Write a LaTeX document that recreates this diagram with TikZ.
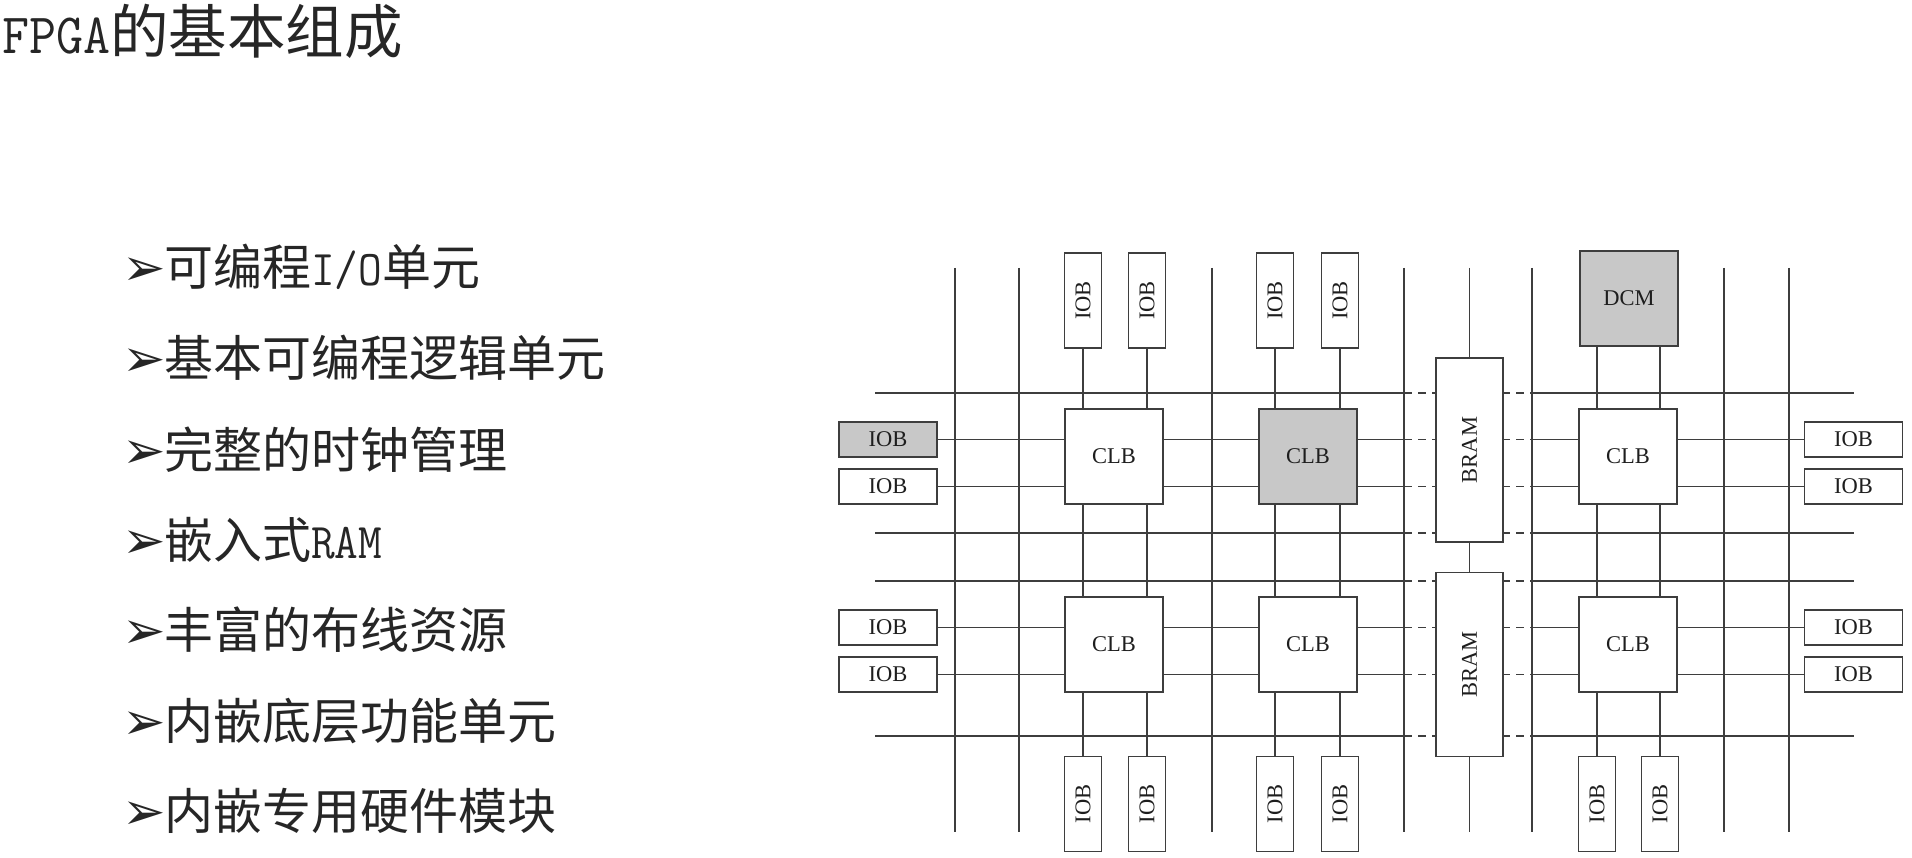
\documentclass[tikz,border=0pt]{standalone}
\usepackage{fontspec}
\usepackage{graphicx}
\setmainfont{Liberation Serif}
\newfontfamily\cjk{Noto Sans CJK SC}
\newfontfamily\lat[FakeStretch=0.92]{Latin Modern Mono}
\newfontfamily\arw{DejaVu Sans}
\newfontfamily\diag{Liberation Serif}
\pgfdeclarelayer{bg}
\pgfsetlayers{bg,main}
\definecolor{lc}{HTML}{3E3E3E}
\definecolor{gfill}{HTML}{C8C8C8}
\definecolor{txt}{HTML}{262626}
\definecolor{dtxt}{HTML}{1E1E1E}
\newcommand\bul{\makebox[42pt][l]{\arw\fontsize{52}{54}\selectfont ➢}}
\begin{document}
\begin{tikzpicture}[x=1pt,y=-1pt,
  box/.style={draw=lc,line width=1.9pt,fill=white,inner sep=0pt,outer sep=0pt,text=dtxt,font=\diag\fontsize{22.5}{24}\selectfont},
  clb/.style={box,minimum width=98pt,minimum height=95pt},
  hiob/.style={box,minimum width=98pt,minimum height=35pt},
  viob/.style={box,minimum width=37pt,minimum height=95pt},
  bram/.style={box,minimum width=67pt,minimum height=184pt},
  grayfill/.style={fill=gfill},
  wire/.style={draw=lc,line width=1.8pt},
  dwire/.style={wire,dash pattern=on 8pt off 6pt},
  bullet/.style={anchor=base west,inner sep=0pt,text=txt,font=\fontsize{49}{52}\selectfont\cjk}]
\begin{pgfonlayer}{bg}
\fill[white] (0,0) rectangle (1912,858);
\end{pgfonlayer}
\useasboundingbox (0,0) rectangle (1912,858);

% ---- text ----
\node[anchor=base west,inner sep=0pt,text=txt] (title) at (2,54)
  {\fontsize{57}{60}\selectfont{\lat FPGA}\cjk\fontsize{58.5}{60}\selectfont 的基本组成};
\node[bullet] (b1) at (122,286) {\bul 可编程{\lat\fontsize{50}{52}\selectfont I/O}单元};
\node[bullet] (b2) at (122,377) {\bul 基本可编程逻辑单元};
\node[bullet] (b3) at (122,468) {\bul 完整的时钟管理};
\node[bullet] (b4) at (122,558) {\bul 嵌入式{\lat\fontsize{50}{52}\selectfont RAM}};
\node[bullet] (b5) at (122,648) {\bul 丰富的布线资源};
\node[bullet] (b6) at (122,739) {\bul 内嵌底层功能单元};
\node[bullet] (b7) at (122,829) {\bul 内嵌专用硬件模块};

% ---- blocks ----
\node[viob] (tA1) at (1083,300.5) {\rotatebox{90}{IOB}};
\node[viob] (tA2) at (1147,300.5) {\rotatebox{90}{IOB}};
\node[viob] (tB1) at (1275,300.5) {\rotatebox{90}{IOB}};
\node[viob] (tB2) at (1340,300.5) {\rotatebox{90}{IOB}};
\node[clb,grayfill] (dcm) at (1629,298.5) {DCM};

\node[clb] (c11) at (1114,456.5) {CLB};
\node[clb,grayfill] (c12) at (1308,456.5) {CLB};
\node[clb] (c13) at (1628,456.5) {CLB};
\node[clb] (c21) at (1114,644.3) {CLB};
\node[clb] (c22) at (1308,644.3) {CLB};
\node[clb] (c23) at (1628,644.3) {CLB};

\node[bram] (br1) at (1469.5,450) {\rotatebox{90}{BRAM}};
\node[bram] (br2) at (1469.5,664.5) {\rotatebox{90}{BRAM}};

\node[hiob,grayfill] (l1) at (888,439.5) {IOB};
\node[hiob] (l2) at (888,486.5) {IOB};
\node[hiob] (l3) at (888,627.5) {IOB};
\node[hiob] (l4) at (888,674.5) {IOB};
\node[hiob] (r1) at (1853.5,439.5) {IOB};
\node[hiob] (r2) at (1853.5,486.5) {IOB};
\node[hiob] (r3) at (1853.5,627.5) {IOB};
\node[hiob] (r4) at (1853.5,674.5) {IOB};

\node[viob] (bA1) at (1083,804) {\rotatebox{90}{IOB}};
\node[viob] (bA2) at (1147,804) {\rotatebox{90}{IOB}};
\node[viob] (bB1) at (1275,804) {\rotatebox{90}{IOB}};
\node[viob] (bB2) at (1340,804) {\rotatebox{90}{IOB}};
\node[viob] (bC1) at (1597,804) {\rotatebox{90}{IOB}};
\node[viob] (bC2) at (1660,804) {\rotatebox{90}{IOB}};

% ---- wire end points ----
\foreach \n/\x in {1/955,2/1019,3/1212,4/1404,5/1532,6/1724,7/1789}{
  \coordinate (v\n t) at (\x,268);
  \coordinate (v\n b) at (\x,832);}
\foreach \n/\y in {1/393,2/533,3/581,4/736}{
  \coordinate (h\n l) at (875,\y);
  \coordinate (h\n r) at (1854,\y);}
\coordinate (bt) at (1469.5,268);
\coordinate (bb) at (1469.5,832);

% ---- wires ----
\begin{pgfonlayer}{bg}
\foreach \n in {1,...,7} \draw[wire] (v\n t) -- (v\n b);
\foreach \n in {1,...,4}{
  \draw[wire] (h\n l) -- (h\n l -| v4t);
  \draw[dwire] (h\n l -| v4t) -- (h\n l -| v5t);
  \draw[wire] (h\n l -| v5t) -- (h\n r);}
\foreach \a/\b in {l1/r1,l2/r2,l3/r3,l4/r4}{
  \draw[wire] (\a.east) -- (\a.east -| v4t);
  \draw[dwire] (\a.east -| v4t) -- (\a.east -| v5t);
  \draw[wire] (\a.east -| v5t) -- (\b.west);}
\foreach \t/\b/\u/\d in {tA1/bA1/c11/c21,tA2/bA2/c11/c21,tB1/bB1/c12/c22,tB2/bB2/c12/c22}{
  \draw[wire] (\t.south) -- (\t.south |- \u.north);
  \draw[wire] (\t.south |- \u.south) -- (\t.south |- \d.north);
  \draw[wire] (\b.north |- \d.south) -- (\b.north);}
\foreach \b in {bC1,bC2}{
  \draw[wire] (dcm.south -| \b) -- (c13.north -| \b);
  \draw[wire] (c13.south -| \b) -- (c23.north -| \b);
  \draw[wire] (c23.south -| \b) -- (\b.north);}
\draw[wire] (bt) -- (br1.north);
\draw[wire] (br1.south) -- (br2.north);
\draw[wire] (br2.south) -- (bb);
\end{pgfonlayer}
\end{tikzpicture}
\end{document}
